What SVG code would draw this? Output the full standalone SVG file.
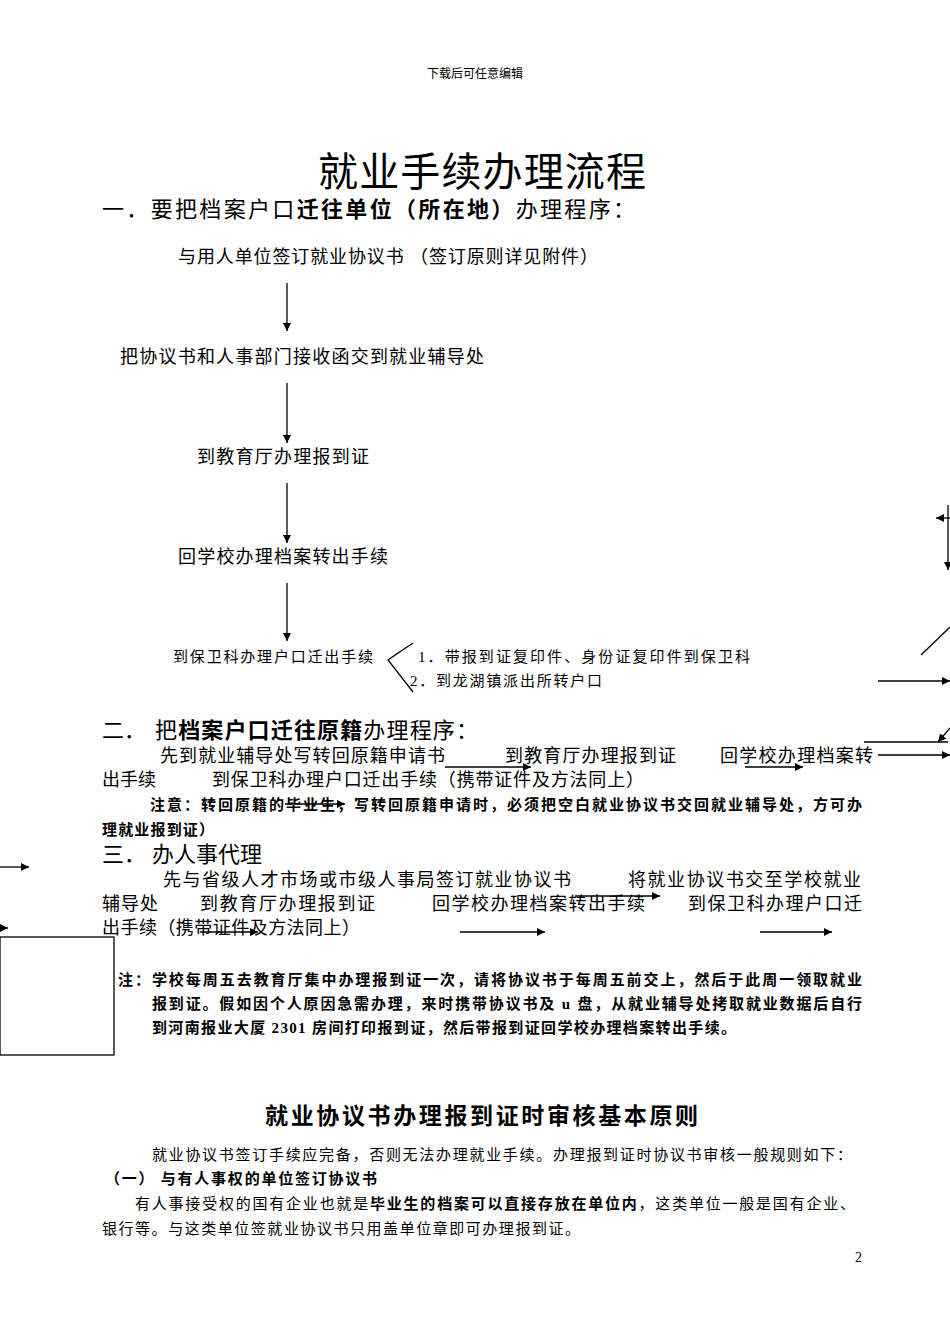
<svg xmlns="http://www.w3.org/2000/svg" width="950" height="1344" viewBox="0 0 950 1344">
<defs><marker id="a" viewBox="0 0 10 10" refX="10" refY="5" markerWidth="8" markerHeight="8" markerUnits="userSpaceOnUse" orient="auto"><path d="M0,0L10,5L0,10z" fill="#000"/></marker></defs>
<style>
text{font-family:"Liberation Serif","Noto Sans CJK SC",serif;fill:#000}
.m{font-size:18px}.s{font-size:15px}.b{font-weight:bold;font-size:15px}.h{font-size:22px}
line,polyline{stroke:#000;stroke-width:1.3;fill:none}
.ar{marker-end:url(#a)}
</style>
<rect width="950" height="1344" fill="#fff"/>
<text x="475" y="78" font-size="12" text-anchor="middle">下载后可任意编辑</text>
<text x="318" y="186" font-size="40" textLength="328">就业手续办理流程</text>
<text x="102" y="217" class="h" textLength="533">一．要把档案户口<tspan font-weight="bold">迁往单位（所在地）</tspan>办理程序：</text>
<g id="n1"><text x="178" y="263" class="m" textLength="420">与用人单位签订就业协议书 （签订原则详见附件）</text></g>
<g id="n2"><text x="120" y="363" class="m" textLength="364">把协议书和人事部门接收函交到就业辅导处</text></g>
<g id="n3"><text x="197" y="463" class="m" textLength="172">到教育厅办理报到证</text></g>
<g id="n4"><text x="178" y="563" class="m" textLength="210">回学校办理档案转出手续</text></g>
<g id="n5"><text x="173" y="662" class="s" textLength="200">到保卫科办理户口迁出手续</text></g>
<g id="n6"><text x="418" y="662" class="s" textLength="332">1．带报到证复印件、身份证复印件到保卫科</text></g>
<g id="n7"><text x="410" y="686" class="s" textLength="192">2．到龙湖镇派出所转户口</text></g>
<g id="connectors">
<line class="ar" x1="287" y1="283" x2="287" y2="331"/>
<line class="ar" x1="287" y1="383" x2="287" y2="443"/>
<line class="ar" x1="287" y1="483" x2="287" y2="543"/>
<line class="ar" x1="287" y1="583" x2="287" y2="641"/>
<polyline points="413,643 388,660 413,692"/>
<line class="ar" x1="445" y1="767" x2="531" y2="767"/>
<line class="ar" x1="745" y1="767" x2="803" y2="767"/>
<line class="ar" x1="285" y1="804" x2="345" y2="804"/>
<line class="ar" x1="575" y1="896" x2="660" y2="896"/>
<line class="ar" x1="200" y1="932" x2="258" y2="932"/>
<line class="ar" x1="460" y1="932" x2="545" y2="932"/>
<line class="ar" x1="760" y1="932" x2="832" y2="932"/>
<line class="ar" x1="0" y1="867" x2="29" y2="867"/>
<line class="ar" x1="0" y1="928" x2="8" y2="928"/>
<line class="ar" x1="950" y1="518" x2="936" y2="518"/>
<line class="ar" x1="948" y1="505" x2="948" y2="570"/>
<line x1="921" y1="655" x2="950" y2="627"/>
<line class="ar" x1="878" y1="681" x2="950" y2="681"/>
<line class="ar" x1="950" y1="728" x2="938" y2="742"/>
<line x1="864" y1="742" x2="948" y2="742"/>
<line class="ar" x1="878" y1="755" x2="950" y2="755"/>
</g>
<rect x="0" y="937" width="114" height="118" fill="none" stroke="#000" stroke-width="1.3"/>
<text y="738" class="h"><tspan x="102">二．</tspan><tspan x="155" textLength="323"><tspan>把</tspan><tspan font-weight="bold">档案户口迁往原籍</tspan><tspan>办理程序：</tspan></tspan></text>
<text class="m" y="762"><tspan x="160" textLength="285">先到就业辅导处写转回原籍申请书</tspan><tspan x="505" textLength="171">到教育厅办理报到证</tspan><tspan x="720" textLength="153">回学校办理档案转</tspan></text>
<text class="m" y="786"><tspan x="102" textLength="54">出手续</tspan><tspan x="212" textLength="432">到保卫科办理户口迁出手续（携带证件及方法同上）</tspan></text>
<text x="150" y="810" class="b" textLength="712">注意：转回原籍的毕业生，写转回原籍申请时，必须把空白就业协议书交回就业辅导处，方可办</text>
<text x="102" y="835" class="b" textLength="112">理就业报到证）</text>
<text y="862" class="h"><tspan x="102">三．</tspan><tspan x="152">办人事代理</tspan></text>
<text class="m" y="886"><tspan x="163" textLength="408">先与省级人才市场或市级人事局签订就业协议书</tspan><tspan x="628" textLength="233">将就业协议书交至学校就业</tspan></text>
<text class="m" y="910"><tspan x="102" textLength="56">辅导处</tspan><tspan x="200" textLength="175">到教育厅办理报到证</tspan><tspan x="432" textLength="213">回学校办理档案转出手续</tspan><tspan x="688" textLength="174">到保卫科办理户口迁</tspan></text>
<text x="102" y="934" class="m" textLength="258">出手续（携带证件及方法同上）</text>
<text x="118" y="985" class="b" textLength="744">注：学校每周五去教育厅集中办理报到证一次，请将协议书于每周五前交上，然后于此周一领取就业</text>
<text x="152" y="1009" class="b" textLength="710">报到证。假如因个人原因急需办理，来时携带协议书及 u 盘，从就业辅导处拷取就业数据后自行</text>
<text x="152" y="1033" class="b" textLength="584">到河南报业大厦 2301 房间打印报到证，然后带报到证回学校办理档案转出手续。</text>
<text x="265" y="1124" font-size="23" font-weight="bold" textLength="433">就业协议书办理报到证时审核基本原则</text>
<text x="152" y="1160" class="s" textLength="700">就业协议书签订手续应完备，否则无法办理就业手续。办理报到证时协议书审核一般规则如下：</text>
<text x="105" y="1184" class="b" textLength="272">（一） 与有人事权的单位签订协议书</text>
<text x="135" y="1209" class="s" textLength="720">有人事接受权的国有企业也就是<tspan font-weight="bold">毕业生的档案可以直接存放在单位内</tspan>，这类单位一般是国有企业、</text>
<text x="102" y="1234" class="s" textLength="478">银行等。与这类单位签就业协议书只用盖单位章即可办理报到证。</text>
<text x="855" y="1262" font-size="14">2</text>
</svg>
